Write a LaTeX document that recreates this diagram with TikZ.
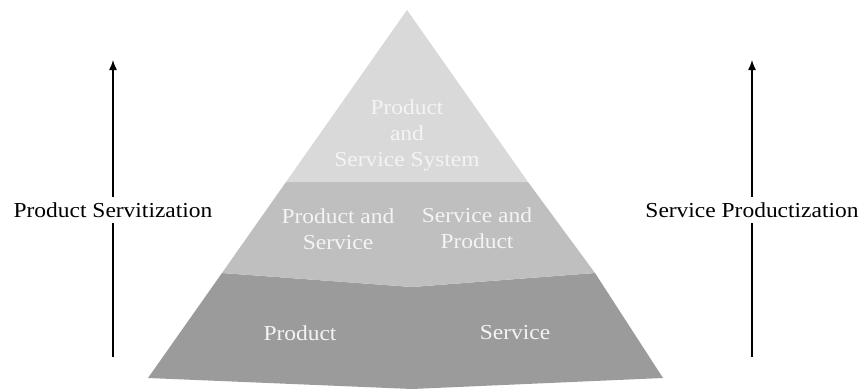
\documentclass[tikz,border=0pt]{standalone}
\usepackage{fontspec}
\setmainfont[FakeStretch=1.1]{Liberation Serif}
\usepackage{tikz}
\usetikzlibrary{positioning, arrows.meta}
\definecolor{layerTop}{HTML}{D9D9D9}
\definecolor{layerMid}{HTML}{BFBFBF}
\definecolor{layerBase}{HTML}{9B9B9B}
\definecolor{layerInk}{HTML}{F4F4F4}
\tikzstyle{sidelabel} = [font=\fontsize{16}{19.5}\selectfont,
inner sep = 4pt]
\tikzstyle{layertext} = [font=\fontsize{16}{19.5}\selectfont,
text=layerInk, align=center, inner sep = 0pt]
\tikzstyle{trend} = [line width=1pt,
-{Latex[length=7.5pt, width=6pt]}]

\begin{document}
\begin{tikzpicture}[x=0.75pt, y=-0.75pt]
	\useasboundingbox (0,0) rectangle (861,389);
	%% pyramid corners
	\coordinate (apex) at (407, 10);
	\coordinate (tl) at (286, 182);
	\coordinate (tr) at (528, 182);
	\coordinate (ml) at (222, 273);
	\coordinate (mc) at (412, 287);
	\coordinate (mr) at (595, 273);
	\coordinate (bl) at (148, 378);
	\coordinate (bc) at (412, 389);
	\coordinate (br) at (663, 378);
	%% layers
	\fill[layerBase] (ml) -- (mc) -- (mr) -- (br) -- (bc) -- (bl) -- cycle;
	\fill[layerMid] (tl) -- (tr) -- (mr) -- (mc) -- (ml) -- cycle;
	\fill[layerTop] (apex) -- (tr) -- (tl) -- cycle;
	\node[layertext] (pss) at (407, 135) {Product\\and\\Service System};
	\node[layertext] (ps) at (338, 229) {Product and\\Service};
	\node[layertext] (sp) at (477, 228) {Service and\\Product};
	\node[layertext] (prod) at (300, 333) {Product};
	\node[layertext] (serv) at (515, 333) {Service};
	%% side arrows
	\coordinate (lfoot) at (113, 357);
	\coordinate (lhead) at (113, 60);
	\node[sidelabel] (servitization) at (113, 210) {Product Servitization};
	\draw[line width=1pt] (lfoot) -- (servitization.south);
	\draw[trend] (servitization.north) -- (lhead);
	\coordinate (rfoot) at (752, 357);
	\coordinate (rhead) at (752, 60);
	\node[sidelabel] (productization) at (752, 210) {Service Productization};
	\draw[line width=1pt] (rfoot) -- (productization.south);
	\draw[trend] (productization.north) -- (rhead);
\end{tikzpicture}
\end{document}
